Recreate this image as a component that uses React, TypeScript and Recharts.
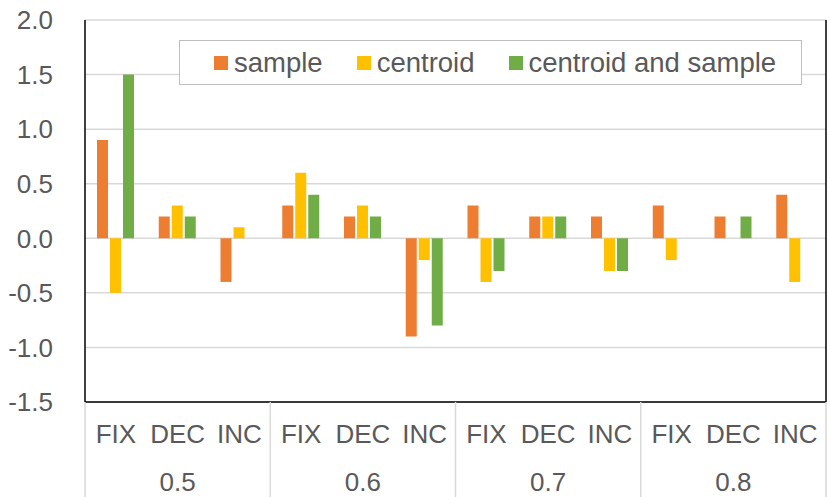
import { Bar, BarChart, CartesianGrid, Legend, XAxis, YAxis } from 'recharts';

// Clustered bars on a two-level category axis: method (FIX/DEC/INC) under each ratio group.

const GROUPS = ['0.5', '0.6', '0.7', '0.8'];
const METHODS = ['FIX', 'DEC', 'INC'];

// one value per (group, method), in GROUPS x METHODS order
const SAMPLE = [0.9, 0.2, -0.4, 0.3, 0.2, -0.9, 0.3, 0.2, 0.2, 0.3, 0.2, 0.4];
const CENTROID = [-0.5, 0.3, 0.1, 0.6, 0.3, -0.2, -0.4, 0.2, -0.3, -0.2, 0, -0.4];
const CENTROID_AND_SAMPLE = [1.5, 0.2, 0, 0.4, 0.2, -0.8, -0.3, 0.2, -0.3, 0, 0.2, 0];

const Y_TICKS = [-1.5, -1, -0.5, 0, 0.5, 1, 1.5, 2];

const SERIES = [
  { key: 'sample', name: 'sample', color: '#ED7D31' },
  { key: 'centroid', name: 'centroid', color: '#FFC000' },
  { key: 'centroidAndSample', name: 'centroid and sample', color: '#70AD47' },
];

const data = GROUPS.flatMap((group, g) =>
  METHODS.map((method, m) => {
    const i = g * METHODS.length + m;
    return {
      id: `${group}-${method}`,
      group,
      method,
      sample: SAMPLE[i],
      centroid: CENTROID[i],
      centroidAndSample: CENTROID_AND_SAMPLE[i],
    };
  }),
);

const FONT = '"Liberation Sans", Arial, sans-serif';
const TEXT = '#595959';
const SEP = '#d9d9d9';
const FONT_SIZE = 26;

function MethodTick(props: any) {
  const { x, y, payload, index } = props;
  const half = payload && payload.offset > 0 ? payload.offset : 30.8;
  const method = data[index]?.method ?? '';
  return (
    <g>
      <text
        x={x}
        y={y + 41}
        textAnchor="middle"
        fill={TEXT}
        fontSize={FONT_SIZE}
        fontFamily={FONT}
      >
        {method}
      </text>
      {index % METHODS.length === 0 && (
        <line x1={x - half} x2={x - half} y1={y} y2={y + 95} stroke={SEP} strokeWidth={1.5} />
      )}
      {index === data.length - 1 && (
        <line x1={x + half} x2={x + half} y1={y} y2={y + 95} stroke={SEP} strokeWidth={1.5} />
      )}
    </g>
  );
}

function GroupTick(props: any) {
  const { x, y, payload } = props;
  return (
    <text
      x={x}
      y={y + 39}
      textAnchor="middle"
      fill={TEXT}
      fontSize={FONT_SIZE}
      fontFamily={FONT}
    >
      {payload.value}
    </text>
  );
}

function LegendBox() {
  return (
    <div
      style={{
        display: 'flex',
        alignItems: 'center',
        boxSizing: 'border-box',
        width: 623,
        height: 45,
        paddingLeft: 34,
        border: '1.5px solid #bfbfbf',
        background: '#fff',
        fontFamily: FONT,
        fontSize: 27.5,
        color: TEXT,
      }}
    >
      {SERIES.map((s, i) => (
        <div
          key={s.key}
          style={{ display: 'flex', alignItems: 'center', marginRight: i < SERIES.length - 1 ? 34 : 0 }}
        >
          <span style={{ width: 14, height: 14, background: s.color, marginRight: 6 }} />
          <span>{s.name}</span>
        </div>
      ))}
    </div>
  );
}

export default function App() {
  return (
    <div style={{ position: 'absolute', left: 0, top: 0, background: '#fff' }}>
      <BarChart
        width={830}
        height={497}
        data={data}
        margin={{ top: 20, right: 0, bottom: 0, left: 0 }}
        barSize={11}
        barGap={2}
      >
        <CartesianGrid vertical={false} stroke={SEP} strokeWidth={1.5} />
        <XAxis
          dataKey="id"
          height={50}
          tickSize={0}
          tickMargin={0}
          interval={0}
          axisLine={{ stroke: '#000', strokeWidth: 1.5 }}
          tick={<MethodTick />}
        />
        <XAxis
          xAxisId="group"
          dataKey="group"
          allowDuplicatedCategory={false}
          height={45}
          tickSize={0}
          tickMargin={0}
          interval={0}
          axisLine={false}
          tick={<GroupTick />}
        />
        <XAxis
          xAxisId="top"
          dataKey="id"
          orientation="top"
          height={0}
          tick={false}
          tickLine={false}
          axisLine={{ stroke: '#000', strokeWidth: 1.5 }}
        />
        <YAxis
          width={85}
          domain={[-1.5, 2]}
          ticks={Y_TICKS}
          allowDataOverflow
          tickSize={0}
          tickMargin={32}
          axisLine={{ stroke: '#000', strokeWidth: 1.5 }}
          tickFormatter={(v: number) => v.toFixed(1)}
          tick={{ fill: TEXT, fontSize: FONT_SIZE, fontFamily: FONT }}
        />
        <YAxis
          yAxisId="right"
          orientation="right"
          dataKey="sample"
          width={4}
          domain={[-1.5, 2]}
          tick={false}
          tickLine={false}
          axisLine={{ stroke: '#000', strokeWidth: 1.5 }}
        />
        <Legend
          layout="horizontal"
          verticalAlign="middle"
          align="center"
          wrapperStyle={{ top: 40, left: 179, width: 623 }}
          content={() => <LegendBox />}
        />
        {SERIES.map((s) => (
          <Bar key={s.key} dataKey={s.key} name={s.name} fill={s.color} isAnimationActive={false} />
        ))}
      </BarChart>
    </div>
  );
}
